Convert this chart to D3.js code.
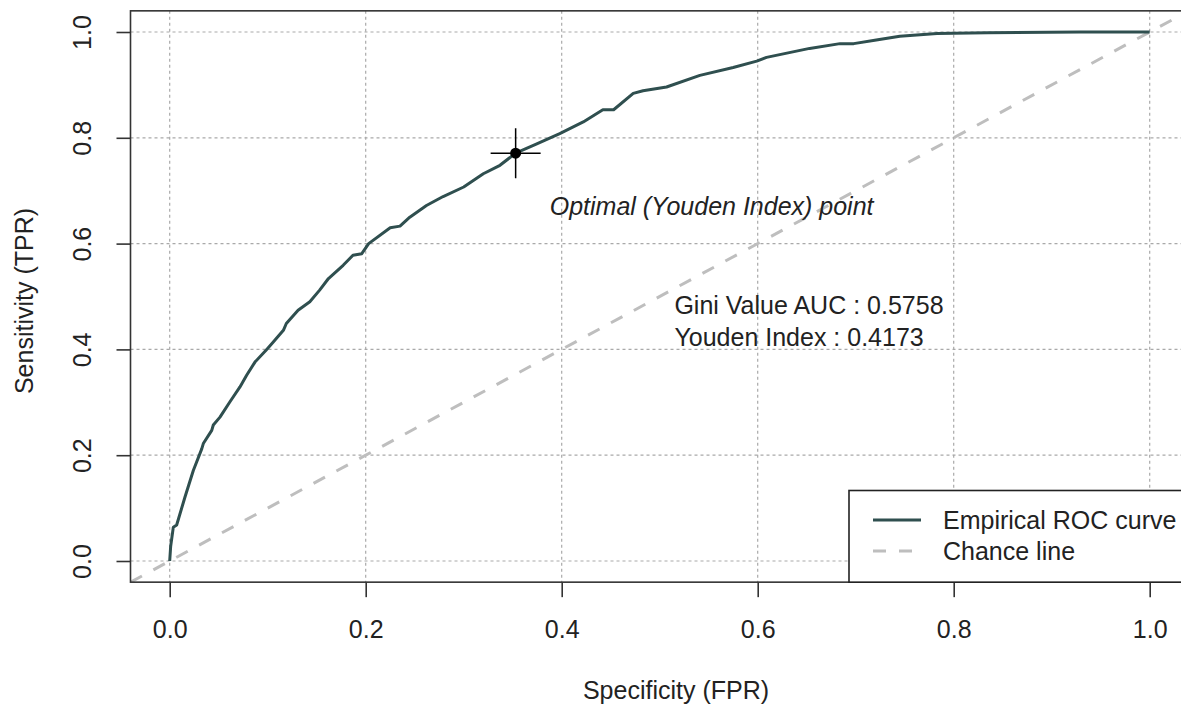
<!DOCTYPE html>
<html>
<head>
<meta charset="utf-8">
<script src="https://cdn.jsdelivr.net/npm/d3@7"></script>
<style>
  body { margin: 0; background: #fff; }
  svg { display: block; font-family: "Liberation Sans", Arial, sans-serif; }
</style>
</head>
<body>
<svg id="roc_chart" width="1181" height="707"></svg>
<script>
// empirical ROC curve
var fpr = [0, 0.001, 0.0037, 0.0071, 0.0156, 0.0241, 0.0327, 0.0343, 0.0429, 0.0445, 0.0513,
           0.0615, 0.0717, 0.0785, 0.087, 0.099, 0.1057, 0.116, 0.119, 0.131, 0.143, 0.153,
           0.162, 0.177, 0.187, 0.196, 0.203, 0.225, 0.235, 0.245, 0.262, 0.279, 0.300, 0.320,
           0.337, 0.353, 0.374, 0.398, 0.422, 0.442, 0.453, 0.473, 0.483, 0.507, 0.541, 0.575,
           0.599, 0.609, 0.653, 0.684, 0.698, 0.721, 0.745, 0.783, 0.834, 0.929, 1.0];
var tpr = [0, 0.028, 0.064, 0.068, 0.121, 0.171, 0.212, 0.222, 0.247, 0.257, 0.272,
           0.301, 0.329, 0.351, 0.376, 0.400, 0.414, 0.436, 0.449, 0.474, 0.490, 0.512,
           0.534, 0.559, 0.578, 0.581, 0.600, 0.630, 0.633, 0.650, 0.672, 0.689, 0.707, 0.732,
           0.748, 0.771, 0.788, 0.808, 0.830, 0.853, 0.853, 0.884, 0.889, 0.896, 0.918, 0.933,
           0.945, 0.952, 0.969, 0.978, 0.978, 0.985, 0.992, 0.997, 0.9985, 1.0, 1.0];

var optimal = {fpr: 0.353, tpr: 0.771};
var ticks = [0, 0.2, 0.4, 0.6, 0.8, 1.0];
var legendLabels = ["Empirical ROC curve", "Chance line"];
var statLines = ["Gini Value AUC : 0.5758", "Youden Index : 0.4173"];

var curveColor = "#2f4f4f";
var chanceColor = "#bebebe";

function drawRoc() {
  var svg = d3.select("#roc_chart");
  var fs = 25;

  var x = d3.scaleLinear().domain([0, 1]).range([169.7, 1149.7]);
  var y = d3.scaleLinear().domain([0, 1]).range([561, 32]);

  var pLeft = x(-0.04), pRight = x(1.04), pTop = y(1.04), pBottom = y(-0.04);

  svg.append("clipPath").attr("id", "plot_clip")
     .append("rect")
     .attr("x", pLeft).attr("y", pTop)
     .attr("width", pRight - pLeft).attr("height", pBottom - pTop);

  // grid
  var grid = svg.append("g").attr("clip-path", "url(#plot_clip)");
  grid.selectAll("line.gx").data(ticks).enter().append("line")
      .attr("x1", function(d) { return x(d); }).attr("x2", function(d) { return x(d); })
      .attr("y1", pTop).attr("y2", pBottom)
      .attr("stroke", "#a9a9a9").attr("stroke-width", 1.2).attr("stroke-dasharray", "3,3");
  grid.selectAll("line.gy").data(ticks).enter().append("line")
      .attr("y1", function(d) { return y(d); }).attr("y2", function(d) { return y(d); })
      .attr("x1", pLeft).attr("x2", pRight)
      .attr("stroke", "#a9a9a9").attr("stroke-width", 1.2).attr("stroke-dasharray", "3,3");

  var plot = svg.append("g").attr("clip-path", "url(#plot_clip)");

  // chance line
  plot.append("line")
      .attr("x1", x(-0.04)).attr("y1", y(-0.04))
      .attr("x2", x(1.04)).attr("y2", y(1.04))
      .attr("stroke", chanceColor).attr("stroke-width", 3)
      .attr("stroke-dasharray", "13,13");

  // ROC curve
  var rocData = fpr.map(function(f, i) { return {fpr: f, tpr: tpr[i]}; });
  var valueline = d3.line()
      .x(function(d) { return x(d.fpr); })
      .y(function(d) { return y(d.tpr); });
  plot.append("path")
      .datum(rocData)
      .attr("fill", "none")
      .attr("stroke", curveColor)
      .attr("stroke-width", 3)
      .attr("stroke-linejoin", "round")
      .attr("d", valueline);

  // optimal point with cross
  var ox = x(optimal.fpr), oy = y(optimal.tpr);
  plot.append("line").attr("x1", ox - 25).attr("x2", ox + 25).attr("y1", oy).attr("y2", oy)
      .attr("stroke", "#000").attr("stroke-width", 1.5);
  plot.append("line").attr("x1", ox).attr("x2", ox).attr("y1", oy - 25).attr("y2", oy + 25)
      .attr("stroke", "#000").attr("stroke-width", 1.5);
  plot.append("circle").attr("cx", ox).attr("cy", oy).attr("r", 5.5).attr("fill", "#000");

  // annotations
  svg.append("text")
      .attr("x", x(0.553)).attr("y", y(0.655))
      .attr("text-anchor", "middle")
      .attr("font-style", "italic")
      .attr("font-size", fs).attr("fill", "#222")
      .text("Optimal (Youden Index) point");

  svg.selectAll("text.stat").data(statLines).enter().append("text")
      .attr("class", "stat")
      .attr("x", x(0.515))
      .attr("y", function(d, i) { return y(0.467) + i * 32; })
      .attr("font-size", fs).attr("fill", "#222")
      .text(function(d) { return d; });

  // axes
  var xAxis = svg.append("g")
      .attr("transform", "translate(0," + pBottom + ")")
      .call(d3.axisBottom(x).tickValues(ticks).tickFormat(d3.format(".1f"))
            .tickSize(15).tickPadding(23));
  xAxis.select(".domain").remove();
  xAxis.selectAll("line").attr("stroke", "#333").attr("stroke-width", 1.6);
  xAxis.selectAll("text").attr("font-size", fs).attr("fill", "#222").attr("font-family", null);

  var yAxis = svg.append("g")
      .attr("transform", "translate(" + pLeft + ",0)")
      .call(d3.axisLeft(y).tickValues(ticks).tickFormat(d3.format(".1f")).tickSize(14));
  yAxis.select(".domain").remove();
  yAxis.selectAll("line").attr("stroke", "#333").attr("stroke-width", 1.6);
  yAxis.selectAll("text")
      .attr("x", null).attr("dy", null)
      .attr("text-anchor", "middle")
      .attr("transform", "translate(" + (91 - pLeft) + ",0) rotate(-90)")
      .attr("font-size", fs).attr("fill", "#222").attr("font-family", null);

  // box
  svg.append("rect")
      .attr("x", pLeft).attr("y", pTop)
      .attr("width", pRight - pLeft).attr("height", pBottom - pTop)
      .attr("fill", "none").attr("stroke", "#333").attr("stroke-width", 1.6);

  // axis titles
  svg.append("text")
      .attr("x", 676).attr("y", 699)
      .attr("text-anchor", "middle").attr("font-size", fs).attr("fill", "#222")
      .text("Specificity (FPR)");
  svg.append("text")
      .attr("transform", "translate(33," + 301 + ") rotate(-90)")
      .attr("text-anchor", "middle").attr("font-size", fs).attr("fill", "#222")
      .text("Sensitivity (TPR)");

  // legend, bottom right
  var legend = svg.append("g");
  legend.append("rect")
      .attr("x", 849).attr("y", 490.5)
      .attr("width", pRight - 849).attr("height", pBottom - 490.5)
      .attr("fill", "#fff").attr("stroke", "#222").attr("stroke-width", 1.6);
  var legendStyles = [
    {color: curveColor, dash: null},
    {color: chanceColor, dash: "13,13"}
  ];
  legendLabels.forEach(function(label, i) {
    var ly = 520 + i * 31;
    legend.append("line")
        .attr("x1", 873).attr("x2", 921).attr("y1", ly).attr("y2", ly)
        .attr("stroke", legendStyles[i].color).attr("stroke-width", 3)
        .attr("stroke-dasharray", legendStyles[i].dash);
    legend.append("text")
        .attr("x", 943).attr("y", ly + 9)
        .attr("font-size", fs).attr("fill", "#222")
        .text(label);
  });
}

drawRoc();
</script>
</body>
</html>
